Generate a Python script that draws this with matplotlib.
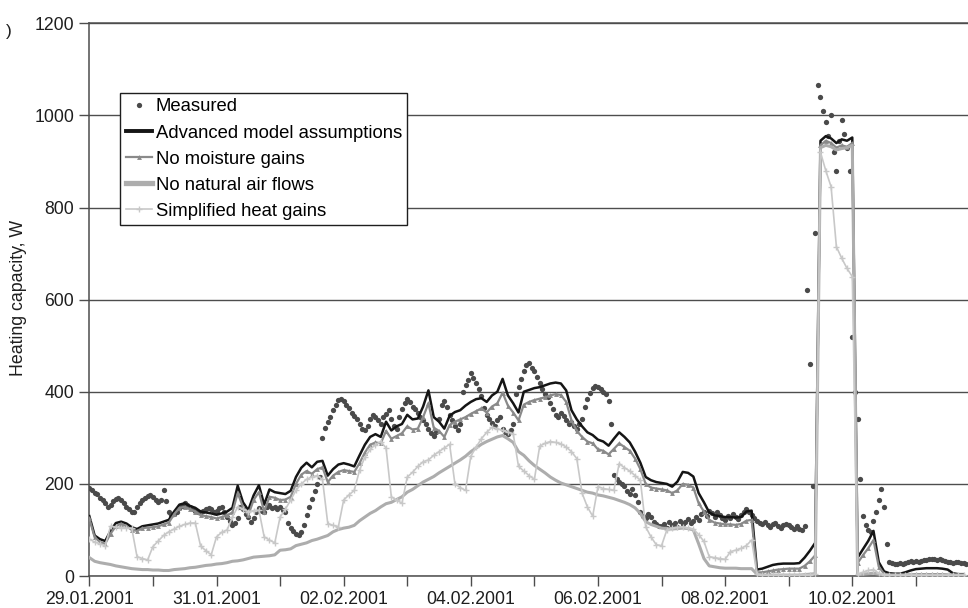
import numpy as np
import pandas as pd
import matplotlib
matplotlib.use('Agg')
import matplotlib.pyplot as plt

plt.rcParams['font.family'] = ['Liberation Sans', 'DejaVu Sans']

# measured heating power, hourly values, one row per day starting 29.01.2001
measured = np.concatenate([
    [192, 186, 180, 178, 170, 165, 158, 150, 155, 162, 168, 170, 166, 158, 150, 145, 140, 138, 150, 158, 165, 170, 174, 176],
    [172, 166, 160, 165, 187, 162, 140, 132, 135, 140, 148, 152, 158, 155, 150, 146, 142, 140, 138, 142, 146, 148, 145, 140],
    [142, 148, 150, 138, 128, 120, 110, 115, 125, 150, 145, 135, 128, 118, 125, 140, 148, 142, 138, 150, 155, 148, 150, 146],
    [150, 144, 138, 115, 105, 98, 92, 88, 95, 110, 132, 150, 168, 185, 200, 215, 300, 322, 335, 345, 360, 372, 382, 385],
    [380, 372, 365, 355, 348, 340, 330, 320, 316, 325, 340, 350, 345, 338, 330, 345, 352, 360, 340, 325, 320, 345, 362, 375],
    [385, 378, 368, 362, 355, 345, 338, 330, 320, 310, 305, 312, 340, 372, 380, 368, 350, 338, 325, 318, 330, 400, 415, 425],
    [440, 430, 418, 405, 390, 365, 350, 340, 332, 325, 338, 345, 320, 312, 308, 318, 330, 395, 410, 428, 445, 458, 462, 452],
    [445, 432, 418, 405, 395, 388, 375, 362, 350, 345, 355, 348, 338, 330, 335, 325, 320, 330, 340, 368, 385, 398, 408, 412],
    [410, 405, 400, 395, 380, 330, 220, 210, 205, 200, 195, 185, 178, 190, 175, 160, 140, 130, 125, 135, 128, 118, 112, 108],
    [108, 112, 104, 118, 110, 115, 106, 120, 112, 118, 124, 115, 120, 128, 122, 135, 140, 130, 142, 136, 128, 138, 132, 126],
    [122, 130, 126, 134, 128, 124, 132, 138, 145, 140, 132, 126, 120, 116, 112, 118, 110, 106, 112, 115, 108, 104, 110, 113],
    [110, 106, 103, 108, 102, 100, 108, 620, 460, 195, 745, 1065, 1040, 1010, 985, 955, 1000, 920, 880, 945, 990, 960, 930, 880],
    [520, 400, 340, 210, 130, 110, 100, 95, 120, 140, 165, 190, 150, 70, 30, 28, 26, 27, 28, 26, 28, 30, 32, 30],
    [33, 30, 32, 34, 35, 36, 38, 37, 35, 36, 34, 33, 31, 30, 29, 30, 31, 29, 28, 27],
])

# simulated heating power, 2-hourly values, one row per day
advanced = np.concatenate([
    [130, 88, 80, 76, 98, 115, 118, 114, 106, 102, 108, 110],
    [112, 114, 118, 122, 140, 155, 158, 152, 148, 140, 138, 136],
    [133, 136, 140, 148, 196, 160, 143, 175, 197, 155, 188, 182],
    [180, 178, 185, 215, 235, 246, 236, 248, 250, 218, 232, 242],
    [245, 242, 238, 262, 285, 302, 308, 302, 335, 316, 325, 330],
    [350, 340, 342, 368, 403, 345, 335, 320, 348, 356, 360, 370],
    [378, 384, 386, 378, 392, 400, 428, 392, 375, 355, 400, 404],
    [408, 410, 414, 418, 420, 418, 403, 360, 340, 325, 312, 306],
    [296, 292, 283, 298, 312, 302, 290, 270, 246, 215, 208, 204],
    [202, 200, 194, 205, 226, 224, 216, 180, 160, 138, 132, 130],
    [128, 128, 127, 128, 140, 142, 14, 16, 20, 24, 26, 27],
    [27, 27, 28, 40, 55, 72, 945, 955, 950, 940, 948, 945],
    [952, 40, 58, 76, 98, 30, 10, 6, 5, 5, 8, 12],
    [15, 16, 17, 17, 17, 16, 14, 6, 4, 4],
])

no_moisture = np.concatenate([
    [125, 84, 74, 70, 92, 108, 114, 108, 100, 98, 104, 105],
    [106, 108, 112, 116, 134, 148, 150, 145, 140, 132, 130, 128],
    [125, 128, 132, 138, 180, 150, 132, 165, 182, 140, 172, 170],
    [165, 166, 172, 200, 220, 228, 222, 232, 236, 204, 218, 226],
    [230, 228, 226, 245, 268, 285, 290, 288, 315, 298, 304, 310],
    [325, 318, 320, 345, 375, 322, 315, 302, 328, 335, 340, 345],
    [352, 358, 364, 355, 368, 375, 398, 370, 355, 338, 372, 378],
    [382, 385, 388, 392, 395, 393, 378, 338, 315, 302, 292, 288],
    [275, 272, 264, 276, 288, 280, 272, 255, 232, 200, 192, 190],
    [188, 186, 180, 186, 200, 198, 192, 158, 140, 122, 116, 114],
    [112, 112, 111, 113, 120, 122, 8, 8, 10, 12, 14, 15],
    [16, 16, 16, 22, 32, 45, 935, 945, 940, 930, 935, 932],
    [940, 28, 45, 60, 78, 20, 5, 3, 3, 3, 3, 3],
    [4, 4, 4, 4, 4, 4, 3, 3, 3, 3],
])

no_air_flows = np.concatenate([
    [40, 32, 29, 27, 25, 22, 20, 18, 16, 15, 14, 14],
    [13, 13, 12, 12, 14, 15, 16, 18, 19, 21, 23, 24],
    [26, 27, 29, 32, 33, 35, 38, 41, 42, 43, 44, 46],
    [56, 57, 59, 66, 69, 72, 77, 80, 84, 88, 96, 101],
    [104, 106, 110, 120, 128, 136, 142, 150, 157, 160, 166, 172],
    [182, 188, 196, 204, 210, 216, 224, 231, 238, 245, 252, 260],
    [270, 278, 286, 292, 297, 302, 305, 298, 290, 270, 262, 250],
    [240, 232, 224, 215, 208, 202, 198, 194, 190, 186, 182, 180],
    [176, 174, 171, 168, 164, 160, 155, 148, 136, 118, 112, 108],
    [104, 103, 102, 103, 104, 103, 100, 70, 38, 22, 20, 18],
    [17, 17, 17, 16, 16, 16, 4, 2, 2, 2, 2, 2],
    [2, 2, 2, 3, 4, 5, 930, 935, 932, 925, 928, 930],
    [935, 3, 4, 5, 6, 4, 2, 2, 2, 2, 2, 2],
    [2, 2, 2, 2, 2, 2, 2, 2, 2, 2],
])

simple_gains = np.concatenate([
    [80, 74, 70, 66, 108, 106, 105, 104, 104, 42, 38, 35],
    [64, 76, 88, 96, 102, 108, 112, 115, 115, 65, 55, 46],
    [85, 95, 100, 128, 150, 145, 140, 142, 143, 85, 78, 72],
    [128, 145, 165, 186, 200, 210, 215, 218, 210, 114, 110, 107],
    [165, 176, 186, 230, 258, 275, 285, 292, 278, 172, 165, 158],
    [215, 225, 238, 248, 252, 262, 270, 278, 286, 200, 192, 186],
    [260, 280, 298, 312, 323, 320, 316, 312, 309, 238, 228, 218],
    [210, 282, 288, 292, 290, 287, 280, 270, 255, 180, 150, 130],
    [194, 190, 188, 186, 244, 235, 228, 218, 208, 107, 85, 68],
    [66, 100, 104, 106, 107, 104, 102, 90, 75, 42, 40, 38],
    [36, 53, 56, 60, 66, 78, 4, 2, 2, 2, 2, 2],
    [2, 2, 2, 3, 3, 4, 920, 880, 845, 715, 690, 668],
    [650, 4, 8, 12, 14, 6, 3, 2, 2, 2, 2, 2],
    [2, 2, 2, 2, 2, 2, 2, 2, 2, 2],
])

start = pd.Timestamp('2001-01-29')
t_meas = pd.date_range(start, periods=len(measured), freq='h')
t_model = pd.date_range(start, periods=len(advanced), freq='2h')

fig = plt.figure(figsize=(9.68, 6.08), dpi=100)
ax = fig.add_axes([0.0923, 0.0526, 0.9077, 0.9091])

ax.plot(t_meas, measured, linestyle='none', marker='o', markersize=3.8,
        markeredgewidth=0, color='#4a4a4a', label='Measured', zorder=3)
ax.plot(t_model, advanced, color='#151515', lw=1.8,
        label='Advanced model assumptions', zorder=4)
ax.plot(t_model, no_moisture, color='#8a8a8a', lw=1.6, marker='^',
        markersize=3.5, markeredgewidth=0, label='No moisture gains', zorder=5)
ax.plot(t_model, no_air_flows, color='#adadad', lw=2.2,
        label='No natural air flows', zorder=6)
ax.plot(t_model, simple_gains, color='#c8c8c8', lw=1.2, marker='+',
        markersize=4.5, markeredgewidth=1, label='Simplified heat gains', zorder=7)

ax.set_ylim(0, 1200)
ax.set_yticks(range(0, 1201, 200))
ax.set_xlim(start, start + pd.Timedelta(days=13.82))

days = pd.date_range(start, periods=14, freq='D')
ax.set_xticks(days)
ax.set_xticklabels([d.strftime('%d.%m.%Y') if i % 2 == 0 else '' for i, d in enumerate(days)])

ax.yaxis.grid(True, color='#4d4d4d', lw=1.0, zorder=1)
ax.set_axisbelow(True)
ax.spines['right'].set_visible(False)
for side in ['left', 'bottom', 'top']:
    ax.spines[side].set_color('#4d4d4d')
    ax.spines[side].set_linewidth(1.1)
ax.tick_params(direction='out', length=7, width=1, color='#4d4d4d',
               labelsize=12.7, labelcolor='#1e1e1e')
ax.tick_params(axis='x', pad=4)
ax.tick_params(axis='y', pad=4)

fig.text(0.0196, 0.51, 'Heating capacity, W', rotation=90, fontsize=12.8,
         color='#1e1e1e', ha='center', va='center')
fig.text(0.006, 0.948, ')', fontsize=12.5, color='#1e1e1e', ha='left', va='center')

leg = ax.legend(loc='upper left', bbox_to_anchor=(0.035, 0.874), borderaxespad=0,
                fontsize=13.3, frameon=True, fancybox=False, framealpha=1,
                edgecolor='#1e1e1e', numpoints=1, handlelength=1.4,
                handletextpad=0.22, labelspacing=0.49, borderpad=0.3)
leg.get_frame().set_linewidth(1.0)
leg.set_zorder(10)
for line in leg.get_lines():
    if line.get_label() == 'Advanced model assumptions':
        line.set_linewidth(2.8)
    elif line.get_label() == 'No natural air flows':
        line.set_linewidth(3.8)

fig.savefig('out.png', dpi=100)
